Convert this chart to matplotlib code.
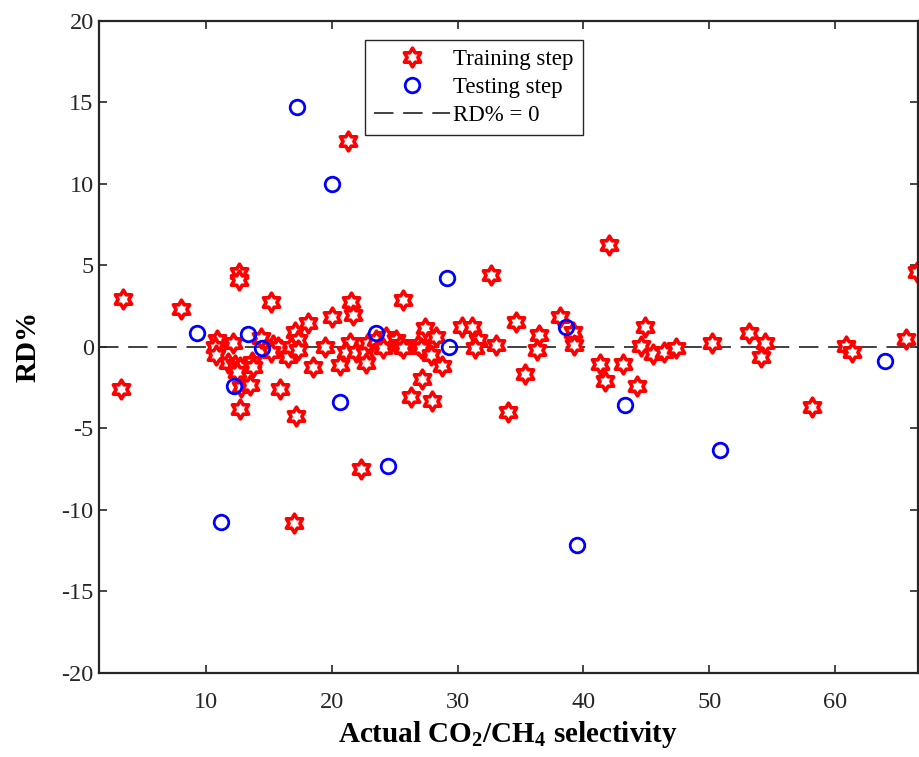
import matplotlib
matplotlib.use("Agg")
import matplotlib.pyplot as plt
from matplotlib.path import Path

# Training step points (actual selectivity, RD%)
train_x = [3.44, 3.23, 7.99, 12.62, 12.62, 15.16, 10.85, 12.17, 10.71, 10.79,
           11.77, 12.3, 12.7, 13.63, 13.75, 12.44, 12.83, 13.49, 12.7, 14.42,
           15.34, 15.74, 15.21, 15.87, 17.2, 16.53, 17.06, 17.33, 16.8, 17.33,
           18.12, 18.52, 20.02, 19.5, 20.69, 21.56, 21.69, 21.43, 21.17, 21.96,
           22.62, 22.7, 22.88, 23.55, 24.34, 24.07, 25.13, 25.4, 25.66, 25.66,
           26.85, 27.38, 27.12, 28.25, 27.91, 28.79, 27.2, 26.27, 27.96, 30.37,
           31.17, 31.61, 31.35, 32.67, 33.07, 34.66, 36.45, 36.29, 35.4, 34.02,
           38.15, 39.15, 39.29, 42.0, 41.33, 41.69, 43.17, 44.23, 44.87, 44.56,
           45.5, 46.43, 47.4, 50.26, 53.17, 54.44, 54.1, 58.15, 60.85, 61.37,
           65.61, 66.53, 21.29, 22.3, 17.0]
train_y = [2.92, -2.60, 2.31, 4.52, 4.11, 2.77, 0.42, 0.22, 0.01, -0.50,
           -1.01, -1.11, -1.22, -0.91, -1.22, -1.52, -2.44, -2.34, -3.83, 0.53,
           0.12, 0.01, -0.29, -2.60, -4.24, -0.60, 0.93, 0.42, 0.01, -0.19,
           1.45, -1.25, 1.82, 0.01, -1.11, 2.77, 1.96, 0.22, -0.29, -0.29,
           -0.39, -1.01, 0.22, 0.42, 0.63, -0.09, 0.42, 0.12, -0.09, 2.88,
           0.12, 1.14, -0.09, 0.63, -0.50, -1.17, -1.99, -3.06, -3.30, 1.24,
           1.24, 0.42, -0.09, 4.41, 0.12, 1.55, 0.73, -0.19, -1.66, -3.98,
           1.82, 0.93, 0.12, 6.26, -1.05, -2.07, -1.07, -2.38, 1.24, 0.06,
           -0.44, -0.29, -0.09, 0.26, 0.83, 0.26, -0.60, -3.67, 0.06, -0.29,
           0.47, 4.62, 12.64, -7.51, -10.79]

# Testing step points
test_x = [9.26, 13.33, 14.44, 12.22, 20.63, 23.55, 29.15, 29.31, 38.63, 43.33,
          63.97, 17.28, 20.02, 24.47, 11.19, 39.47, 50.87]
test_y = [0.87, 0.79, -0.07, -2.38, -3.38, 0.87, 4.23, -0.02, 1.20, -3.57,
          -0.85, 14.71, 10.02, -7.31, -10.77, -12.16, -6.32]

x_ticks = [10, 20, 30, 40, 50, 60]
y_ticks = [-20, -15, -10, -5, 0, 5, 10, 15, 20]


def main():
    plt.rcParams['font.family'] = 'Liberation Serif'
    plt.rcParams['mathtext.fontset'] = 'custom'
    plt.rcParams['mathtext.rm'] = 'Liberation Serif'
    plt.rcParams['mathtext.bf'] = 'Liberation Serif:bold'
    plt.rcParams['axes.unicode_minus'] = False

    hexagram = Path.unit_regular_star(6, 0.577)

    fig = plt.figure(figsize=(9.19, 7.57), dpi=100)
    ax = fig.add_axes([0.1072, 0.1114, 0.8918, 0.8609])

    ax.plot(train_x, train_y, linestyle='none', marker=hexagram, markersize=13.5,
            markerfacecolor='white', markeredgecolor='red', markeredgewidth=2.6,
            label='Training step')
    ax.plot(test_x, test_y, linestyle='none', marker='o', markersize=10.5,
            markerfacecolor='none', markeredgecolor='blue', markeredgewidth=2,
            label='Testing step')
    ax.axhline(0, color='#404040', linestyle=(0, (10, 5)), linewidth=1.4,
               label='RD% = 0', zorder=0)

    ax.set_xlim(1.47, 66.6)
    ax.set_ylim(-20, 20)
    ax.set_xticks(x_ticks)
    ax.set_yticks(y_ticks)
    ax.tick_params(direction='in', top=True, right=True, labelsize=17.5,
                   length=6, width=1.2, colors='#262626', labelcolor='#262626')
    ax.tick_params(axis='x', pad=14)
    for s in ax.spines.values():
        s.set_linewidth(1.6)
        s.set_color('#262626')

    ax.set_xlabel(r'Actual CO$_\mathbf{2}$/CH$_\mathbf{4}$ selectivity',
                  fontsize=21, fontweight='bold', labelpad=4)
    ax.set_ylabel('RD%', fontsize=21, fontweight='bold', labelpad=14)

    leg = ax.legend(loc='upper left', bbox_to_anchor=(0.325, 0.971),
                    borderaxespad=0, fontsize=16.5, handlelength=3.3,
                    handletextpad=0.15, labelspacing=0.3, borderpad=0.4,
                    fancybox=False, edgecolor='#262626', framealpha=1)
    leg.get_frame().set_linewidth(1.0)

    fig.savefig('out.png', dpi=100)


if __name__ == '__main__':
    main()
